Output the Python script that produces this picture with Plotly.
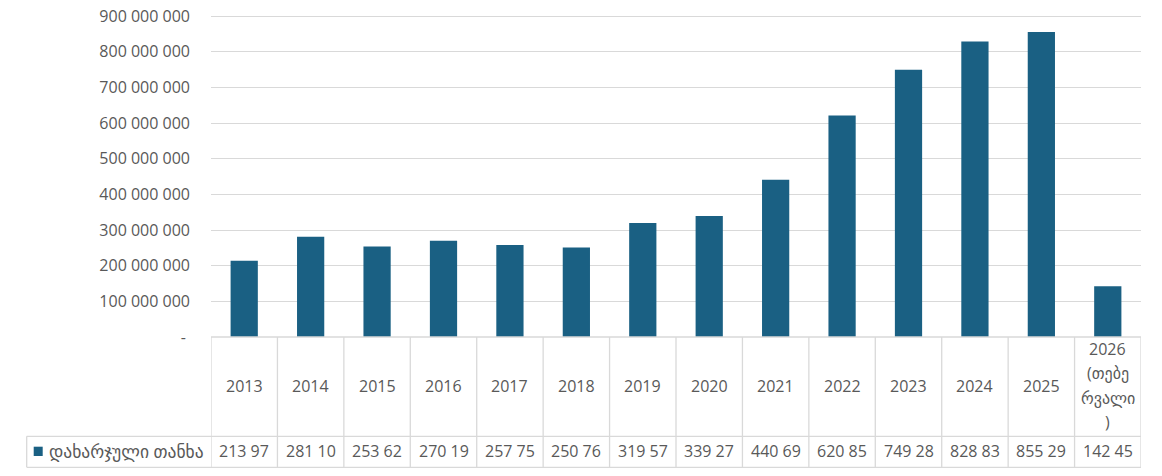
import plotly.graph_objects as go

# ---- data ----
categories = ["2013", "2014", "2015", "2016", "2017", "2018", "2019", "2020",
              "2021", "2022", "2023", "2024", "2025", "2026<br>(თებე<br>რვალი<br>)"]
values = [213_970_000, 281_100_000, 253_620_000, 270_190_000, 257_750_000,
          250_760_000, 319_570_000, 339_270_000, 440_690_000, 620_850_000,
          749_280_000, 828_830_000, 855_290_000, 142_450_000]
series_name = "დახარჯული თანხა"
y_tickvals = [0, 100_000_000, 200_000_000, 300_000_000, 400_000_000, 500_000_000,
              600_000_000, 700_000_000, 800_000_000, 900_000_000]
y_ticktext = ["-\u00a0", "100 000 000", "200 000 000", "300 000 000", "400 000 000",
              "500 000 000", "600 000 000", "700 000 000", "800 000 000", "900 000 000"]
# data-table cells are clipped in the original (Excel) table
table_text = [f"{v:,}".replace(",", " ")[:6] for v in values]

# ---- layout constants (screen pixels; page body has an 8px margin) ----
BODY = 8
SCREEN_W, SCREEN_H = 1162, 476
AXIS_TOP_PX = 16          # where the top gridline (900 000 000) sits
PLOT_L, PLOT_R, PLOT_T, PLOT_B = 211, 1141, 12, 337
Y_TOP = y_tickvals[-1] * (PLOT_B - PLOT_T) / (PLOT_B - AXIS_TOP_PX)
W, H = SCREEN_W - BODY, SCREEN_H - BODY
ML, MT = PLOT_L - BODY, PLOT_T - BODY
MR = W - (PLOT_R - BODY)
MB = H - (PLOT_B - BODY)
PW, PH = PLOT_R - PLOT_L, PLOT_B - PLOT_T
BAR_COLOR = "#1a6083"
GRID = "#d9d9d9"
TXT = "#595959"
FONT = "Open Sans, Noto Sans, DejaVu Sans, sans-serif"


def px_x(p):
    return (p - PLOT_L) / PW


def px_y(p):
    return (PLOT_B - p) / PH


x_idx = list(range(len(categories)))

fig = go.Figure(go.Bar(x=x_idx, y=values, marker=dict(color=BAR_COLOR, line=dict(width=0)),
                       name=series_name, showlegend=False))

shapes = []
row1_bottom = px_y(436.3)
row2_bottom = px_y(467.3)
label_left = px_x(26.7)
line = dict(color=GRID, width=1.3)
for i in range(len(categories) + 1):
    shapes.append(dict(type="line", xref="x", yref="paper", x0=i - 0.5, x1=i - 0.5,
                       y0=0, y1=row2_bottom, line=line))
shapes.append(dict(type="line", xref="paper", yref="paper", x0=label_left, x1=label_left,
                   y0=row1_bottom, y1=row2_bottom, line=line))
shapes.append(dict(type="line", xref="paper", yref="paper", x0=0, x1=1, y0=0, y1=0, line=line))
for yy in (row1_bottom, row2_bottom):
    shapes.append(dict(type="line", xref="paper", yref="paper", x0=label_left, x1=1,
                       y0=yy, y1=yy, line=line))
shapes.append(dict(type="rect", xref="paper", yref="paper", x0=px_x(33.7), x1=px_x(42.7),
                   y0=px_y(456), y1=px_y(446.7), fillcolor=BAR_COLOR, line=dict(width=0)))

annotations = []
cat_center = 385.5
line_gap = 24.3
for i, c in enumerate(categories):
    parts = c.split("<br>")
    n = len(parts)
    for k, part in enumerate(parts):
        yp = cat_center + (k - (n - 1) / 2) * line_gap
        annotations.append(dict(x=i, y=px_y(yp), xref="x", yref="paper", text=part,
                                showarrow=False, xanchor="center", yanchor="middle",
                                font=dict(size=16, color=TXT, family=FONT)))
for i, t in enumerate(table_text):
    annotations.append(dict(x=i, y=px_y(451.5), xref="x", yref="paper", text=t,
                            showarrow=False, xanchor="center", yanchor="middle",
                            font=dict(size=16, color=TXT, family=FONT)))
annotations.append(dict(x=px_x(46.5), y=px_y(451.5), xref="paper", yref="paper",
                        text=series_name, showarrow=False, xanchor="left", yanchor="middle",
                        font=dict(size=17.5, color=TXT, family=FONT)))

fig.update_layout(
    width=W, height=H,
    margin=dict(l=ML, r=MR, t=MT, b=MB, pad=0, autoexpand=False),
    paper_bgcolor="white", plot_bgcolor="white",
    bargap=0.59,
    font=dict(family=FONT, color=TXT, size=16),
    xaxis=dict(type="linear", range=[-0.5, len(categories) - 0.5], showticklabels=False,
               showgrid=False, zeroline=False, showline=False, ticks="", automargin=False),
    yaxis=dict(range=[0, Y_TOP], tickvals=y_tickvals, ticktext=y_ticktext,
               showgrid=True, gridcolor=GRID, gridwidth=1.3, zeroline=False,
               showline=False, ticks="", ticklabelstandoff=20, automargin=False,
               ticklabeloverflow="allow",
               tickfont=dict(size=16, color=TXT, family=FONT)),
    shapes=shapes,
    annotations=annotations,
)

fig.write_html("out.html")
